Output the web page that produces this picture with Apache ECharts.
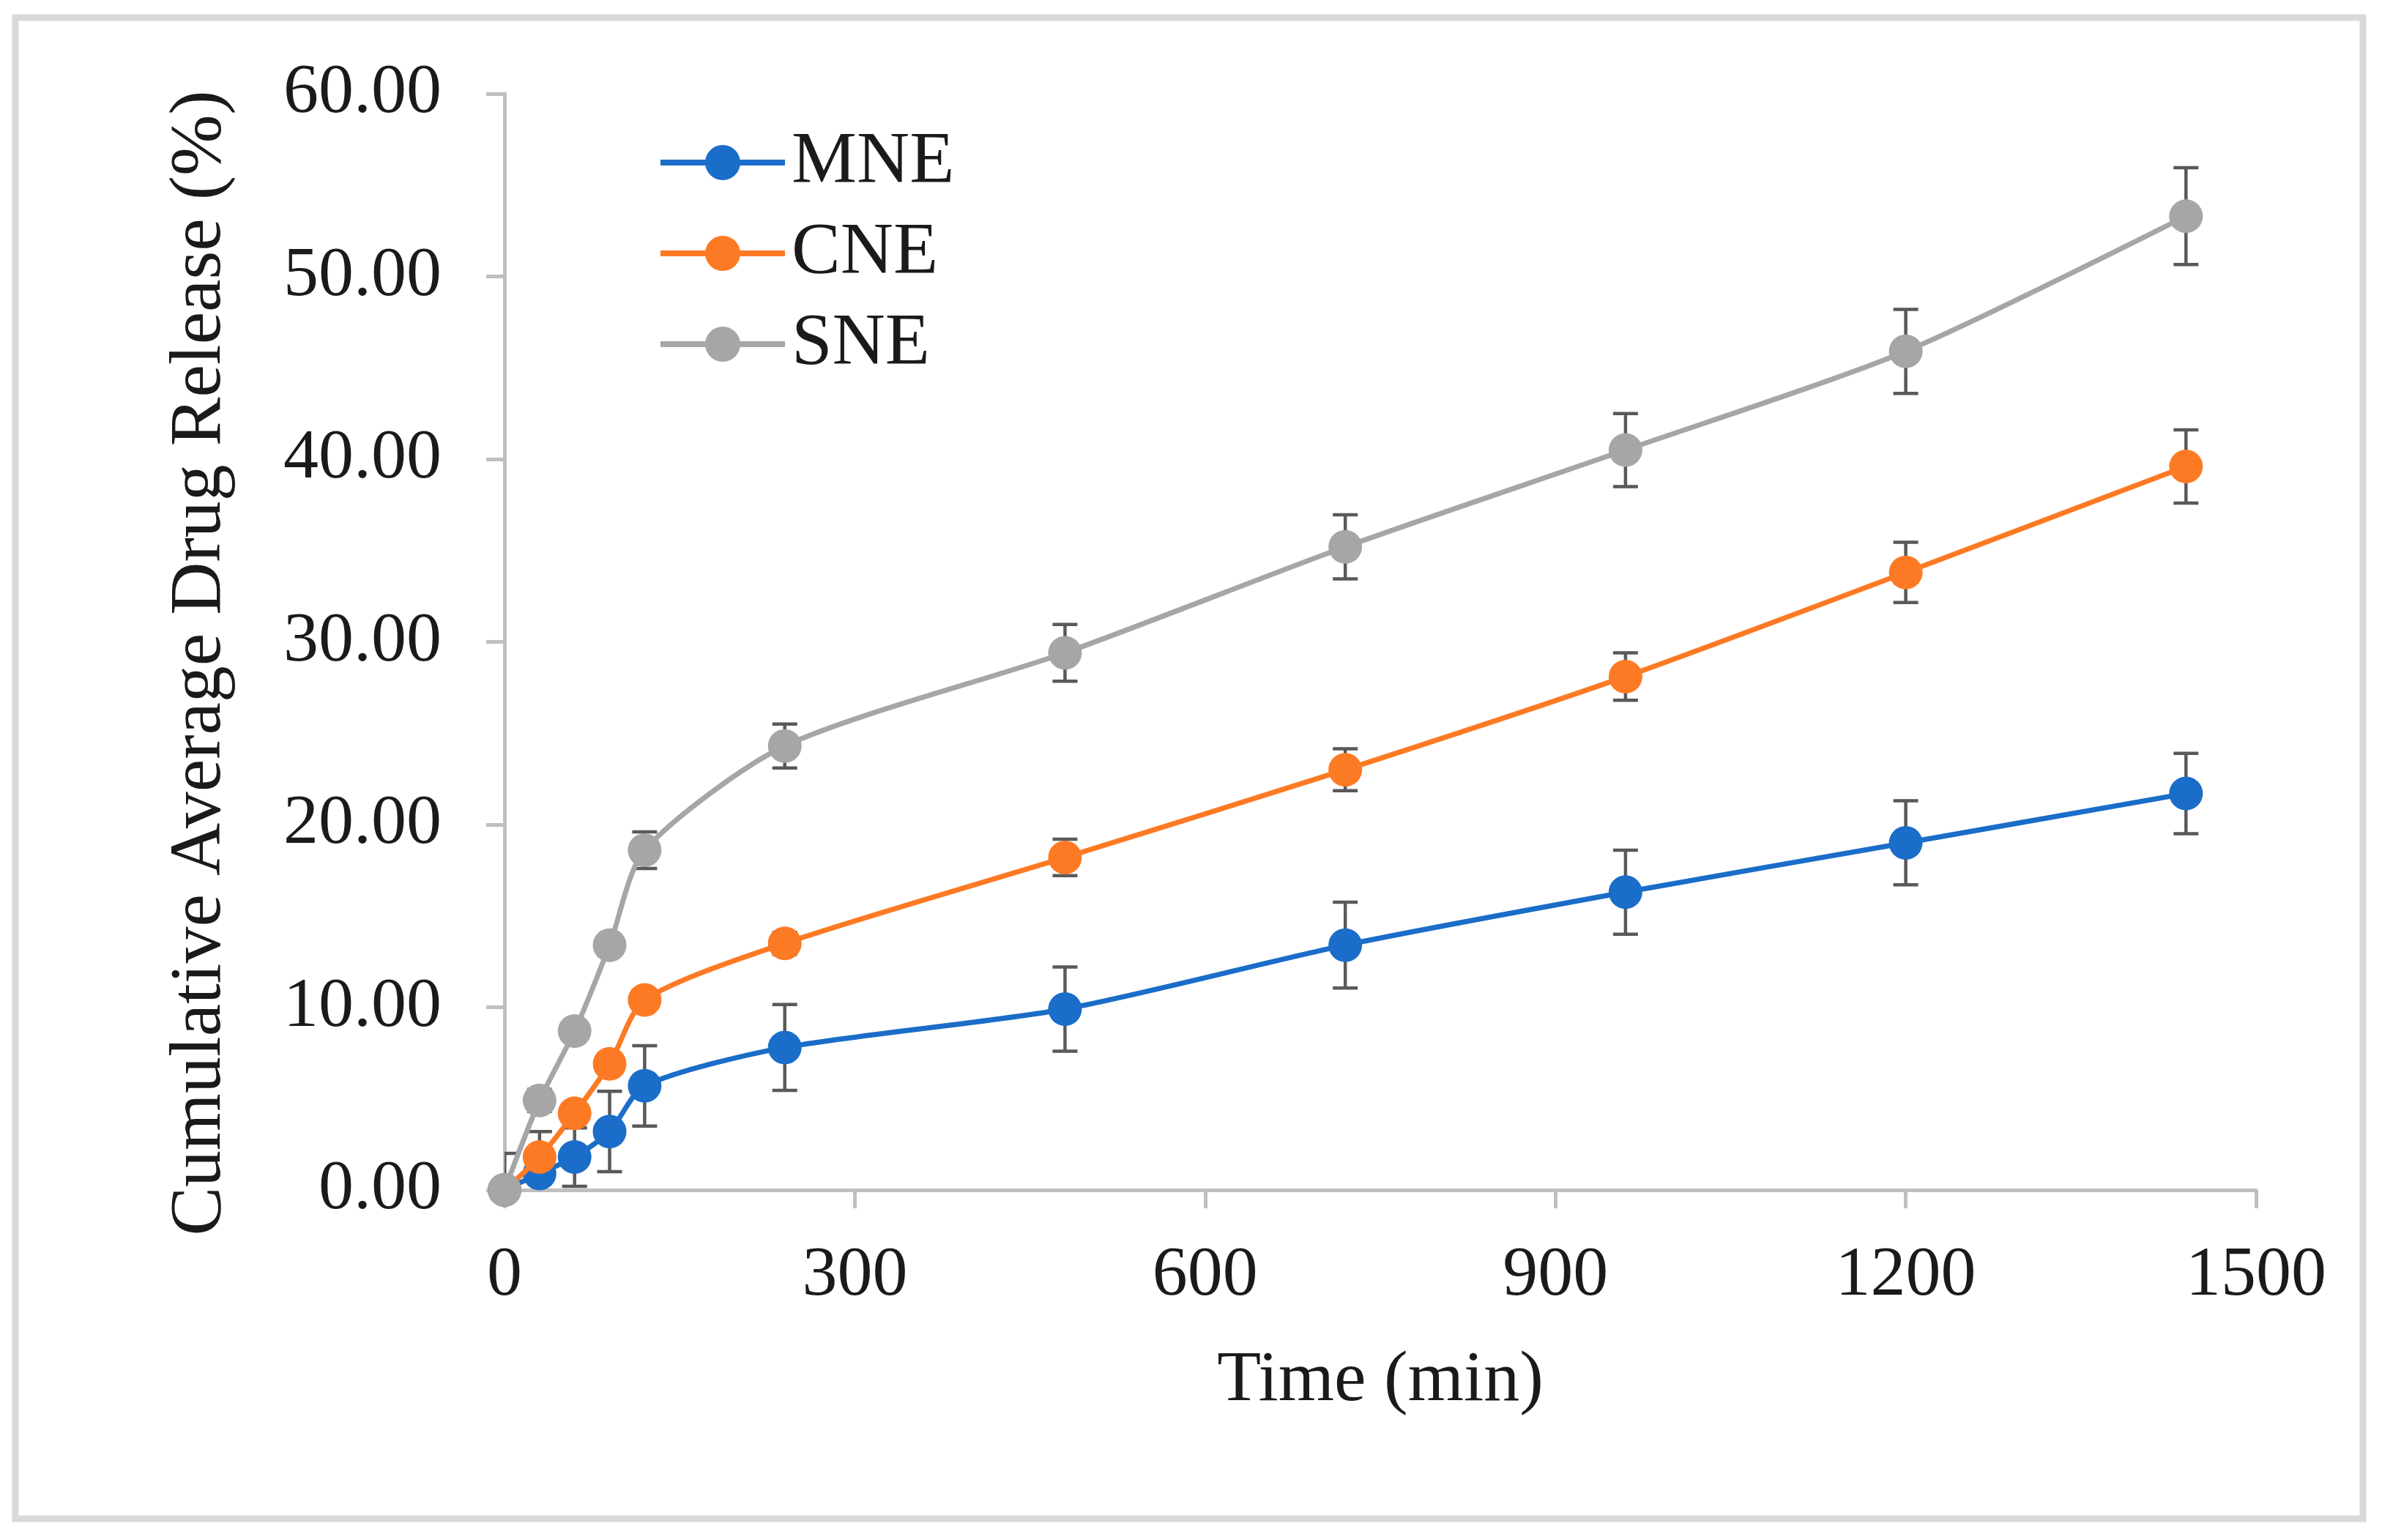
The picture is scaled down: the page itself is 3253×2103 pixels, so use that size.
<!DOCTYPE html>
<html>
<head>
<meta charset="utf-8">
<script src="https://cdn.jsdelivr.net/npm/echarts@6/dist/echarts.min.js"></script>
<style>html,body{margin:0;padding:0;background:#fff}#c{width:3253px;height:2103px}</style>
</head>
<body>
<div id="c"></div>
<script>
const timeMin = [0, 30, 60, 90, 120, 240, 480, 720, 960, 1200, 1440];
const seriesNames = ['MNE', 'CNE', 'SNE'];
const mneValues = [0, 0.9, 1.8, 3.2, 5.7, 7.8, 9.9, 13.4, 16.3, 19.0, 21.7];
const mneSD     = [2.0, 2.3, 1.6, 2.2, 2.2, 2.35, 2.3, 2.35, 2.3, 2.3, 2.2];
const cneValues = [0, 1.8, 4.2, 6.9, 10.4, 13.5, 18.2, 23.0, 28.1, 33.8, 39.6];
const cneSD     = [0.3, 0.5, 0.5, 0.5, 0.5, 0.6, 1.0, 1.15, 1.3, 1.65, 2.0];
const sneValues = [0, 4.9, 8.7, 13.4, 18.6, 24.3, 29.4, 35.2, 40.5, 45.9, 53.3];
const sneSD     = [0.3, 0.6, 0.5, 0.5, 1.0, 1.2, 1.55, 1.75, 2.0, 2.3, 2.65];
const yTicks = [0, 10, 20, 30, 40, 50, 60];
const xTicks = [0, 300, 600, 900, 1200, 1500];

const colors = ['#1a6dc8', '#fd7a24', '#a6a6a6'];
const valuesList = [mneValues, cneValues, sneValues];
const sdList = [mneSD, cneSD, sneSD];
const FONT = '"Liberation Serif", "Times New Roman", serif';

function errRender(params, api) {
  const x = api.value(0), lo = api.value(1), hi = api.value(2);
  const pHi = api.coord([x, hi]);
  const pLo = api.coord([x, lo]);
  const w = 17;
  const style = { stroke: '#595959', lineWidth: 4.5 };
  return {
    type: 'group',
    children: [
      { type: 'line', shape: { x1: pHi[0], y1: pHi[1], x2: pLo[0], y2: pLo[1] }, style: style },
      { type: 'line', shape: { x1: pHi[0] - w, y1: pHi[1], x2: pHi[0] + w, y2: pHi[1] }, style: style },
      { type: 'line', shape: { x1: pLo[0] - w, y1: pLo[1], x2: pLo[0] + w, y2: pLo[1] }, style: style }
    ]
  };
}

const series = [];
seriesNames.forEach(function (name, i) {
  series.push({
    name: name + ' SD',
    type: 'custom',
    renderItem: errRender,
    clip: true,
    z: 1,
    silent: true,
    data: timeMin.map(function (t, k) {
      return [t, valuesList[i][k] - sdList[i][k], valuesList[i][k] + sdList[i][k]];
    })
  });
});
seriesNames.forEach(function (name, i) {
  series.push({
    name: name,
    type: 'line',
    smooth: 0.25,
    symbol: 'circle',
    symbolSize: 46,
    z: 3 + i,
    itemStyle: { color: colors[i] },
    lineStyle: { color: colors[i], width: 7 },
    emphasis: { disabled: true },
    data: timeMin.map(function (t, k) { return [t, valuesList[i][k]]; })
  });
});

const chart = echarts.init(document.getElementById('c'));
chart.setOption({
  animation: false,
  backgroundColor: '#ffffff',
  graphic: [{
    type: 'rect',
    shape: { x: 21, y: 24, width: 3206, height: 2050 },
    style: { fill: 'none', stroke: '#d9d9d9', lineWidth: 9 },
    z: 0
  }],
  grid: { left: 689, right: 172, top: 128, bottom: 478, containLabel: false },
  legend: {
    data: seriesNames,
    orient: 'vertical',
    left: 893,
    top: 167,
    itemWidth: 170,
    itemHeight: 60,
    itemGap: 24,
    lineStyle: { width: 8 },
    textStyle: { fontFamily: FONT, fontSize: 100, color: '#1a1a1a', padding: [0, 0, 0, 4] }
  },
  xAxis: {
    type: 'value',
    min: xTicks[0],
    max: xTicks[xTicks.length - 1],
    interval: 300,
    name: 'Time (min)',
    nameLocation: 'middle',
    nameGap: 212,
    nameTextStyle: { fontFamily: FONT, fontSize: 98, color: '#1a1a1a' },
    axisLine: { show: true, onZero: false, lineStyle: { color: '#bfbfbf', width: 5 } },
    axisTick: { show: true, length: 25, lineStyle: { color: '#bfbfbf', width: 5 } },
    axisLabel: {
      margin: 70, fontFamily: FONT, fontSize: 96, color: '#1a1a1a',
      formatter: function (v) { return String(v); }
    },
    splitLine: { show: false }
  },
  yAxis: {
    type: 'value',
    min: yTicks[0],
    max: yTicks[yTicks.length - 1],
    interval: 10,
    name: 'Cumulative Average Drug Release (%)',
    nameLocation: 'middle',
    nameRotate: 90,
    nameGap: 365,
    nameTextStyle: { fontFamily: FONT, fontSize: 100, color: '#1a1a1a', padding: [0, 58, 0, 0] },
    axisLine: { show: true, lineStyle: { color: '#bfbfbf', width: 5 } },
    axisTick: { show: true, length: 25, lineStyle: { color: '#bfbfbf', width: 5 } },
    axisLabel: {
      margin: 86, fontFamily: FONT, fontSize: 96, color: '#1a1a1a',
      formatter: function (v) { return v.toFixed(2); }
    },
    splitLine: { show: false }
  },
  series: series
});
</script>
</body>
</html>
